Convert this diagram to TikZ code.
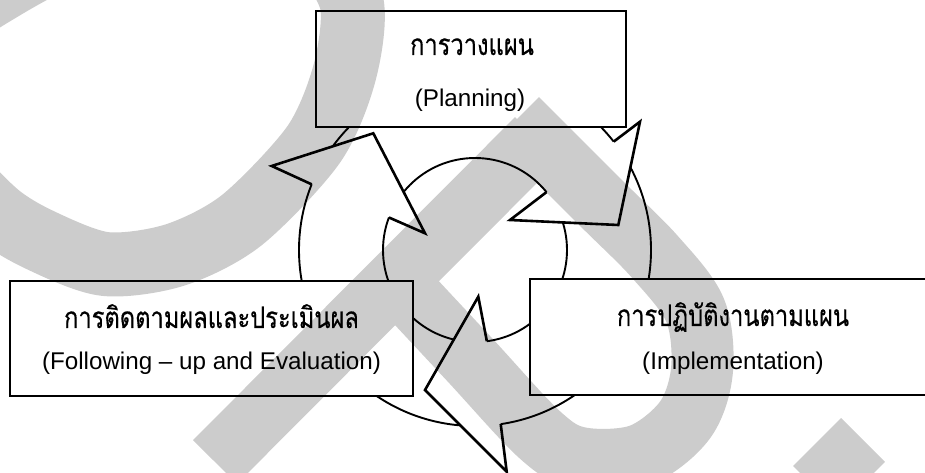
\documentclass[tikz,border=0pt]{standalone}
\usepackage{fontspec}
\setmainfont{Liberation Sans}
\newfontfamily\thaifont[Script=Thai, FakeBold=0.5]{Loma}
\usetikzlibrary{calc}
\newcommand{\thaitext}[1]{\scalebox{0.91}[1.14]{\thaifont #1}}
\begin{document}
\begin{tikzpicture}[x=1pt,y=1pt,
  box/.style={draw=black, line width=1.9pt, inner sep=0pt},
  ringline/.style={draw=black, line width=1.9pt},
  head/.style={draw=black, line width=2.6pt, line join=miter, miter limit=20},
  thai/.style={inner sep=0pt, anchor=base, font=\fontsize{26}{30}\selectfont},
  eng/.style={inner sep=0pt, anchor=base, font=\fontsize{24.2}{29}\selectfont},
  wm/.style={draw=black!20, line cap=butt, line join=round}]
\clip (0,0) rectangle (925,473);
\fill[white] (0,0) rectangle (925,473);
% watermark (underneath everything)
\draw[wm, line width=64pt] plot[smooth cycle] coordinates {(351,473) (345,402) (314,329) (242,253) (175,218) (105,209) (40,233) (-5,261) (-50,313) (-65,383) (-45,448) (0,483) (80,523) (200,548) (310,523)};
\draw[wm, line width=62pt] (215,11) -- (537,334);
\draw[wm, line width=62pt] plot[smooth, tension=0.55] coordinates {(517,354) (600,271) (655,216) (695,163) (702,103) (685,53) (640,18) (580,15) (540,38) (470,113) (400,188)};
\draw[wm, line width=62pt] (863,33) -- (815,-15);
% geometry
\coordinate (O) at (475,223);
\coordinate (tlA) at ($(O)+(158.1:176)$);
\coordinate (tlB) at (271.7,307);
\coordinate (tlC) at (373.3,339.7);
\coordinate (tlD) at (425,239.7);
\coordinate (tlE) at ($(O)+(159.3:92)$);
\coordinate (trA) at ($(O)+(38:176)$);
\coordinate (trB) at (640,351.3);
\coordinate (trC) at (618.3,248);
\coordinate (trD) at (510,253);
\coordinate (trE) at ($(O)+(39:92)$);
\coordinate (bA) at ($(O)+(278.4:176)$);
\coordinate (bB) at (506.7,1.3);
\coordinate (bC) at (425,83);
\coordinate (bD) at (478.3,176.3);
\coordinate (bE) at ($(O)+(277.4:92)$);
% boxes
\node[box, minimum width=310pt, minimum height=116pt] (plan) at (471,404) {};
\node[box, minimum width=403pt, minimum height=115pt] (eval) at (211.5,134.5) {};
\node[box, minimum width=430pt, minimum height=116pt] (impl) at (745,136) {};
% ring, hidden under boxes and arrow heads
\begin{scope}[even odd rule]
\clip (-100,-100) rectangle (1100,600)
  (plan.south west) rectangle (plan.north east)
  (eval.south west) rectangle (eval.north east)
  (impl.south west) rectangle (impl.north east)
  (tlA) -- (tlB) -- (tlC) -- (tlD) -- (tlE) -- cycle
  (trA) -- (trB) -- (trC) -- (trD) -- (trE) -- cycle
  (bA) -- (bB) -- (bC) -- (bD) -- (bE) -- cycle;
\draw[ringline] (O) circle[radius=176];
\draw[ringline] (O) circle[radius=92];
\end{scope}
% arrow heads
\draw[head] (tlA) -- (tlB) -- (tlC) -- (tlD) -- (tlE);
\draw[head] (trA) -- (trB) -- (trC) -- (trD) -- (trE);
\draw[head] (bA) -- (bB) -- (bC) -- (bD) -- (bE);
% texts
\node[thai] (planTh) at (472,418) {\thaitext{การวางแผน}};
\node[eng]  (planEn) at (470,366) {(Planning)};
\node[thai] (evalTh) at (211.5,145) {\thaitext{การติดตามผลและประเมินผล}};
\node[eng]  (evalEn) at (211.5,103) {(Following – up and Evaluation)};
\node[thai] (implTh) at (733,147) {\thaitext{การปฏิบัติงานตามแผน}};
\node[eng]  (implEn) at (733,103) {(Implementation)};
\end{tikzpicture}
\end{document}
